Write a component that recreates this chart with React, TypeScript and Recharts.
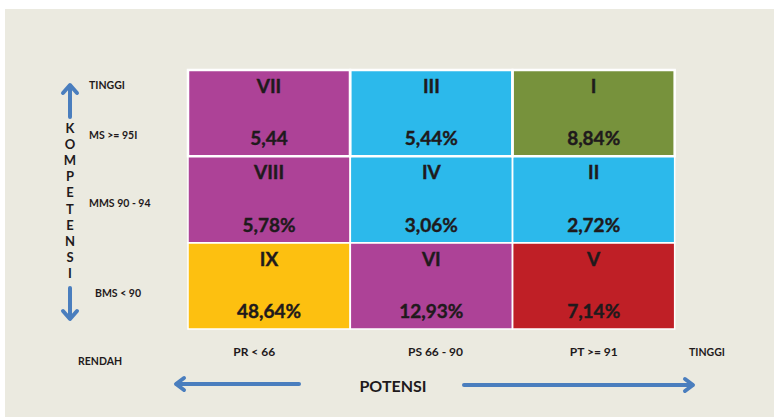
import React from "react";
import { BarChart, Bar, XAxis, YAxis, Cell, LabelList } from "recharts";

// 9-box talent grid: columns = potensi, stacked rows = kompetensi

const columns = ["PR < 66", "PS 66 - 90", "PT >= 91"];

// rows from bottom to top
const lowRoman = ["IX", "VI", "V"];
const midRoman = ["VIII", "IV", "II"];
const highRoman = ["VII", "III", "I"];

const lowPct = ["48,64%", "12,93%", "7,14%"];
const midPct = ["5,78%", "3,06%", "2,72%"];
const highPct = ["5,44", "5,44%", "8,84%"];

const rowTickValues = [0.42, 1.46, 2.25, 2.83];
const rowTickLabels = ["BMS < 90", "MMS 90 - 94", "MS >= 95I", "TINGGI"];

const PURPLE = "#AD4297";
const CYAN = "#2CB9EB";
const OLIVE = "#77923C";
const YELLOW = "#FDC010";
const RED = "#BF1F26";

const lowColors = [YELLOW, PURPLE, RED];
const midColors = [PURPLE, CYAN, CYAN];
const highColors = [PURPLE, CYAN, OLIVE];

const data = columns.map((col, i) => ({
  col,
  low: 1,
  mid: 1,
  high: 1,
  lowRoman: lowRoman[i],
  midRoman: midRoman[i],
  highRoman: highRoman[i],
  lowPct: lowPct[i],
  midPct: midPct[i],
  highPct: highPct[i],
}));

const TEXT = "#1F1A1C";
const BLUE = "#4A7EBE";
const cellFont = "Lato, 'Open Sans', sans-serif";

const RomanLabel = (props: any) => {
  const { x, y, width, value } = props;
  return (
    <text x={x + width / 2} y={y + 23} textAnchor="middle" fontFamily={cellFont} fontWeight={700} fontSize={19} fill={TEXT} stroke={TEXT} strokeWidth={0.4}>
      {value}
    </text>
  );
};

const PctLabel = (props: any) => {
  const { x, y, width, height, value } = props;
  return (
    <text x={x + width / 2} y={y + height - 11} textAnchor="middle" fontFamily={cellFont} fontWeight={700} fontSize={19} fill={TEXT} stroke={TEXT} strokeWidth={0.4}>
      {value}
    </text>
  );
};

const colShift = [-15, 4, 0];

const ColTick = (props: any) => {
  const { x, y, payload, index } = props;
  return (
    <text x={x + colShift[index]} y={y + 19} textAnchor="middle" fontFamily={cellFont} fontWeight={700} fontSize={12} fill={TEXT}>
      {payload.value}
    </text>
  );
};

const RowTick = (props: any) => {
  const { x, y, payload } = props;
  const i = rowTickValues.indexOf(payload.value);
  const label = rowTickLabels[i];
  return (
    <text x={x - 91 + (i === 0 ? 6 : 0)} y={y + 4} textAnchor="start" fontFamily={cellFont} fontWeight={700} fontSize={10.5} fill={TEXT}>
      {label}
    </text>
  );
};

const vertWord = "KOMPETENSI".split("");

const Decorations = () => (
  <svg width={774} height={419} style={{ position: "absolute", left: 0, top: 0, pointerEvents: "none" }}>
    <g stroke={BLUE} strokeWidth={4} strokeLinecap="round" strokeLinejoin="round" fill="none">
      {/* up arrow */}
      <line x1={70} y1={86} x2={70} y2={117} />
      <polyline points="63,93 70,85 77,93" />
      {/* down arrow */}
      <line x1={70} y1={288} x2={70} y2={318} />
      <polyline points="63,311 70,319 77,311" />
      {/* left arrow */}
      <line x1={177} y1={384} x2={299} y2={384} />
      <polyline points="184,378 176,384 184,390" />
      {/* right arrow */}
      <line x1={464} y1={385} x2={692} y2={385} />
      <polyline points="685,379 693,385 685,391" />
    </g>
    {vertWord.map((ch, i) => (
      <text key={i} x={70} y={133 + i * 16.1} textAnchor="middle" fontFamily={cellFont} fontWeight={700} fontSize={13} fill={TEXT}>
        {ch}
      </text>
    ))}
    <text x={393} y={392} textAnchor="middle" fontFamily={cellFont} fontWeight={700} fontSize={16} fill={TEXT}>
      POTENSI
    </text>
    <text x={78} y={365} fontFamily={cellFont} fontWeight={700} fontSize={10.5} fill={TEXT}>
      RENDAH
    </text>
    <text x={689} y={356} fontFamily={cellFont} fontWeight={700} fontSize={10.5} fill={TEXT}>
      TINGGI
    </text>
  </svg>
);

const App = () => (
  <div style={{ position: "absolute", left: 0, top: 0, width: 774, height: 419, background: "#fff", overflow: "hidden" }}>
    <div style={{ position: "absolute", left: 5, top: 9, width: 769, height: 408, background: "#EBEAE0" }} />
    <div style={{ position: "absolute", left: 0, top: 0 }}>
      <BarChart width={774} height={419} data={data} margin={{ top: 70, right: 99, bottom: 60, left: 88 }} barCategoryGap={0}>
        <XAxis dataKey="col" axisLine={false} tickLine={false} height={30} interval={0} tick={<ColTick />} />
        <YAxis type="number" domain={[0, 3]} ticks={rowTickValues} width={100} axisLine={false} tickLine={false} tick={<RowTick />} />
        <Bar dataKey="low" stackId="g" isAnimationActive={false}>
          {lowColors.map((c, i) => (
            <Cell key={`low-${i}`} fill={c} stroke="#fff" strokeWidth={1.5} />
          ))}
          <LabelList dataKey="lowRoman" content={<RomanLabel />} />
          <LabelList dataKey="lowPct" content={<PctLabel />} />
        </Bar>
        <Bar dataKey="mid" stackId="g" isAnimationActive={false}>
          {midColors.map((c, i) => (
            <Cell key={`mid-${i}`} fill={c} stroke="#fff" strokeWidth={1.5} />
          ))}
          <LabelList dataKey="midRoman" content={<RomanLabel />} />
          <LabelList dataKey="midPct" content={<PctLabel />} />
        </Bar>
        <Bar dataKey="high" stackId="g" isAnimationActive={false}>
          {highColors.map((c, i) => (
            <Cell key={`high-${i}`} fill={c} stroke="#fff" strokeWidth={2.5} />
          ))}
          <LabelList dataKey="highRoman" content={<RomanLabel />} />
          <LabelList dataKey="highPct" content={<PctLabel />} />
        </Bar>
      </BarChart>
    </div>
    <Decorations />
  </div>
);

export default App;
